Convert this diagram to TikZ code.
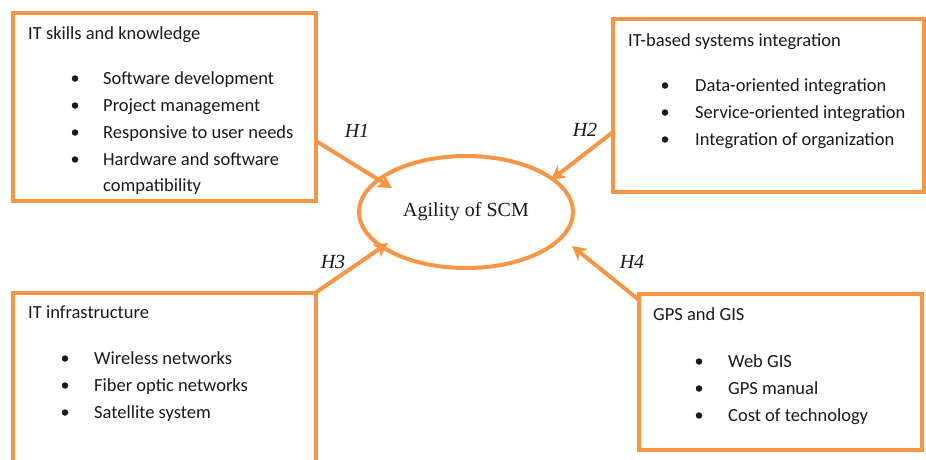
\documentclass[tikz,border=0pt]{standalone}
\usepackage{fontspec}
\setmainfont{Carlito}
\newfontfamily\serifa{Liberation Serif}
\usetikzlibrary{arrows.meta,shapes.geometric}
\definecolor{org}{HTML}{F79646}
\definecolor{ink}{HTML}{1A1A1A}
\begin{document}
\begin{tikzpicture}[x=1pt,y=-1pt,
  box/.style={draw=org,line width=4pt,anchor=north west,inner sep=0pt,outer sep=0pt},
  txt/.style={anchor=base west,font=\fontsize{18.5}{22}\selectfont,text=ink,inner sep=0pt},
  hyp/.style={font=\serifa\itshape\fontsize{20}{24}\selectfont,text=ink,inner sep=0pt},
  arr/.style={draw=org,line width=4pt,-{Stealth[length=14pt,width=15pt,inset=4pt]}},
  dot/.style={fill=ink,circle,inner sep=0pt,minimum size=6.5pt}]
\clip (0,0) rectangle (926,459);
\fill[white] (0,0) rectangle (926,459);
% boxes
\node[box,minimum width=303pt,minimum height=188pt] (b1) at (12.5,12.5) {};
\node[box,minimum width=311pt,minimum height=173pt] (b2) at (612.5,18.5) {};
\node[box,minimum width=303pt,minimum height=180pt] (b3) at (12.5,292.5) {};
\node[box,minimum width=283pt,minimum height=156pt] (b4) at (639,294) {};
% ellipse
\node[draw=org,line width=4pt,ellipse,minimum width=214pt,minimum height=112pt,inner sep=0pt,
  font=\serifa\fontsize{20}{24}\selectfont,text=ink] (agi) at (466,212) {Agility of SCM};
% box 1 text
\node[txt] (t1) at (28,39) {IT skills and knowledge};
\foreach \y/\s [count=\i] in {84/Software development,111/Project management,138/Responsive to user needs,165/Hardware and software}{
  \node[dot] (d1\i) at (75,\y-5.5) {};
  \node[txt] (i1\i) at (103,\y) {\s};
}
\node[txt] (i15) at (103,191) {compatibility};
% box 2 text
\node[txt] (t2) at (628,46) {IT-based systems integration};
\foreach \y/\s [count=\i] in {91/Data-oriented integration,118/Service-oriented integration,145/Integration of organization}{
  \node[dot] (d2\i) at (665,\y-5.5) {};
  \node[txt] (i2\i) at (695,\y) {\s};
}
% box 3 text
\node[txt] (t3) at (28,318) {IT infrastructure};
\foreach \y/\s [count=\i] in {364/Wireless networks,391/Fiber optic networks,418/Satellite system}{
  \node[dot] (d3\i) at (65,\y-5.5) {};
  \node[txt] (i3\i) at (94,\y) {\s};
}
% box 4 text
\node[txt] (t4) at (653,320) {GPS and GIS};
\foreach \y/\s [count=\i] in {367/Web GIS,394/GPS manual,421/Cost of technology}{
  \node[dot] (d4\i) at (699,\y-5.5) {};
  \node[txt] (i4\i) at (728,\y) {\s};
}
% arrow endpoints
\coordinate (s1) at (316,141);
\coordinate (e1) at (392,188);
\coordinate (s2) at (613,132);
\coordinate (e2) at (551,180);
\coordinate (s3) at (315,293);
\coordinate (e3) at (388,243);
\coordinate (s4) at (639,300);
\coordinate (e4) at (572,246);
\draw[arr] (s1) -- (e1);
\draw[arr] (s2) -- (e2);
\draw[arr] (s3) -- (e3);
\draw[arr] (s4) -- (e4);
% hypothesis labels
\node[hyp] (h1) at (357,131) {H1};
\node[hyp] (h2) at (585,130) {H2};
\node[hyp] (h3) at (333,262) {H3};
\node[hyp] (h4) at (632,262) {H4};
\end{tikzpicture}
\end{document}
